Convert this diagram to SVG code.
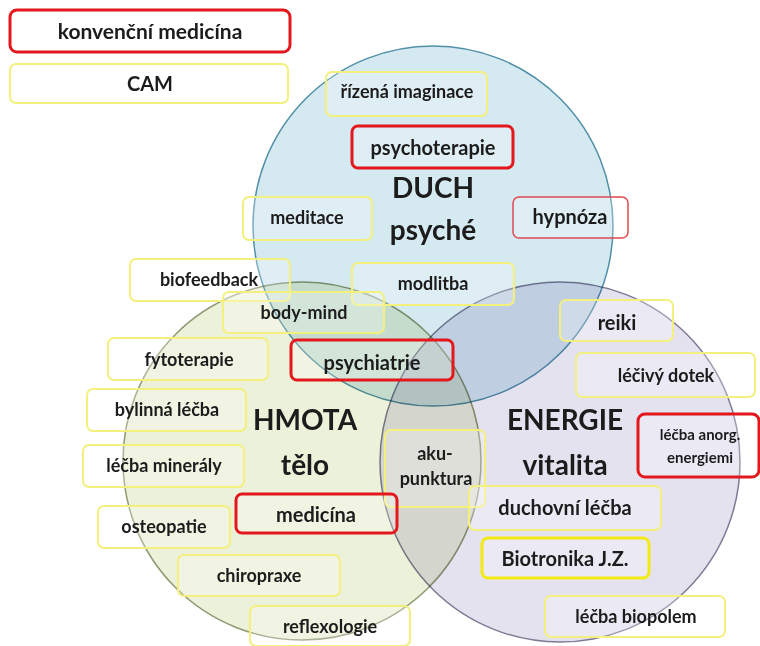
<svg xmlns="http://www.w3.org/2000/svg" width="760" height="646" viewBox="0 0 760 646">
<style>
.c{stroke-width:1.5;mix-blend-mode:multiply}
.b{fill:#ffffff;fill-opacity:0.25;stroke:#f3f07e;stroke-width:2}
.r{fill:#ffffff;fill-opacity:0.25;stroke:#e3171c;stroke-width:3}
.t{font-family:Lato,"Open Sans","Liberation Sans",sans-serif;font-weight:700;font-size:18px;fill:#1c1c1c;text-anchor:middle}
.l{font-size:20px}
.big{font-size:28px}
</style>
<rect width="760" height="646" fill="#ffffff"/>
<g id="circles">
<circle id="hmota" class="c" cx="302" cy="461" r="179" fill="#ecf1da" stroke="#8d9a72"/>
<circle id="energie" class="c" cx="560" cy="462" r="180" fill="#e5e2ef" stroke="#7d7b95"/>
<circle id="duch" class="c" cx="433" cy="226" r="180" fill="#d5e9f0" stroke="#5190a8"/>
</g>
<g id="connectors"></g>
<g id="legend-konv"><rect class="r" x="10" y="10" width="280" height="42" rx="7"/><text class="t" x="150" y="39" style="font-size:21px">konvenční medicína</text></g>
<g id="legend-cam"><rect class="b" x="10" y="64" width="278" height="39" rx="6"/><text class="t" x="150" y="91" style="font-size:20px">CAM</text></g>
<g id="rizena"><rect class="b" x="326" y="72" width="161" height="44" rx="6"/><text class="t" x="407" y="98">řízená imaginace</text></g>
<g id="psychoterapie"><rect class="r" x="352" y="126" width="161" height="42" rx="6"/><text class="t l" x="433" y="155">psychoterapie</text></g>
<g id="duch-label"><text class="t big" x="433" y="198">DUCH</text><text class="t big" x="433" y="240">psyché</text></g>
<g id="meditace"><rect class="b" x="243" y="197" width="129" height="43" rx="6"/><text class="t" x="307" y="224">meditace</text></g>
<g id="hypnoza"><rect x="513" y="197" width="115" height="41" rx="6" fill="#ffffff" fill-opacity="0.25" stroke="#e04a50" stroke-width="1.5"/><text class="t l" x="570" y="224">hypnóza</text></g>
<g id="biofeedback"><rect class="b" x="130" y="259" width="160" height="42" rx="6"/><text class="t" x="209" y="286">biofeedback</text></g>
<g id="modlitba"><rect class="b" x="352" y="263" width="162" height="42" rx="6"/><text class="t" x="433" y="290">modlitba</text></g>
<g id="bodymind"><rect class="b" x="223" y="292" width="161" height="41" rx="6"/><text class="t" x="304" y="319">body-mind</text></g>
<g id="reiki"><rect class="b" x="560" y="300" width="113" height="41" rx="6"/><text class="t l" x="617" y="330">reiki</text></g>
<g id="fytoterapie"><rect class="b" x="108" y="338" width="160" height="42" rx="6"/><text class="t" x="189" y="366">fytoterapie</text></g>
<g id="psychiatrie"><rect class="r" x="291" y="340" width="162" height="40" rx="6"/><text class="t l" x="372" y="370">psychiatrie</text></g>
<g id="lecivy"><rect class="b" x="576" y="353" width="179" height="44" rx="6"/><text class="t" x="666" y="382">léčivý dotek</text></g>
<g id="bylinna"><rect class="b" x="87" y="389" width="159" height="42" rx="6"/><text class="t" x="167" y="416">bylinná léčba</text></g>
<g id="hmota-label"><text class="t big" x="305" y="430">HMOTA</text><text class="t big" x="305" y="475">tělo</text></g>
<g id="akupunktura"><rect class="b" x="385" y="430" width="100" height="77" rx="6"/><text class="t" x="435" y="460">aku-</text><text class="t" x="436" y="485">punktura</text></g>
<g id="energie-label"><text class="t big" x="565" y="430">ENERGIE</text><text class="t big" x="565" y="475">vitalita</text></g>
<g id="anorg"><rect class="r" x="638" y="414" width="121" height="63" rx="7"/><text class="t" x="700" y="440" style="font-size:15px">léčba anorg.</text><text class="t" x="700" y="463" style="font-size:15px">energiemi</text></g>
<g id="mineraly"><rect class="b" x="83" y="445" width="161" height="42" rx="6"/><text class="t" x="164" y="472">léčba minerály</text></g>
<g id="duchovni"><rect class="b" x="469" y="486" width="192" height="44" rx="6"/><text class="t l" x="565" y="515">duchovní léčba</text></g>
<g id="osteopatie"><rect class="b" x="98" y="506" width="132" height="42" rx="6"/><text class="t" x="164" y="533">osteopatie</text></g>
<g id="medicina"><rect class="r" x="236" y="494" width="161" height="39" rx="6"/><text class="t l" x="316" y="522">medicína</text></g>
<g id="biotronika"><rect x="482" y="538" width="167" height="40" rx="6" fill="#ffffff" fill-opacity="0.25" stroke="#f2ea10" stroke-width="3"/><text class="t l" x="565" y="566">Biotronika J.Z.</text></g>
<g id="chiropraxe"><rect class="b" x="178" y="555" width="162" height="41" rx="6"/><text class="t" x="259" y="582">chiropraxe</text></g>
<g id="biopolem"><rect class="b" x="545" y="596" width="180" height="41" rx="6"/><text class="t" x="636" y="623">léčba biopolem</text></g>
<g id="reflexologie"><rect class="b" x="250" y="606" width="160" height="40" rx="6"/><text class="t" x="330" y="633">reflexologie</text></g>
</svg>
